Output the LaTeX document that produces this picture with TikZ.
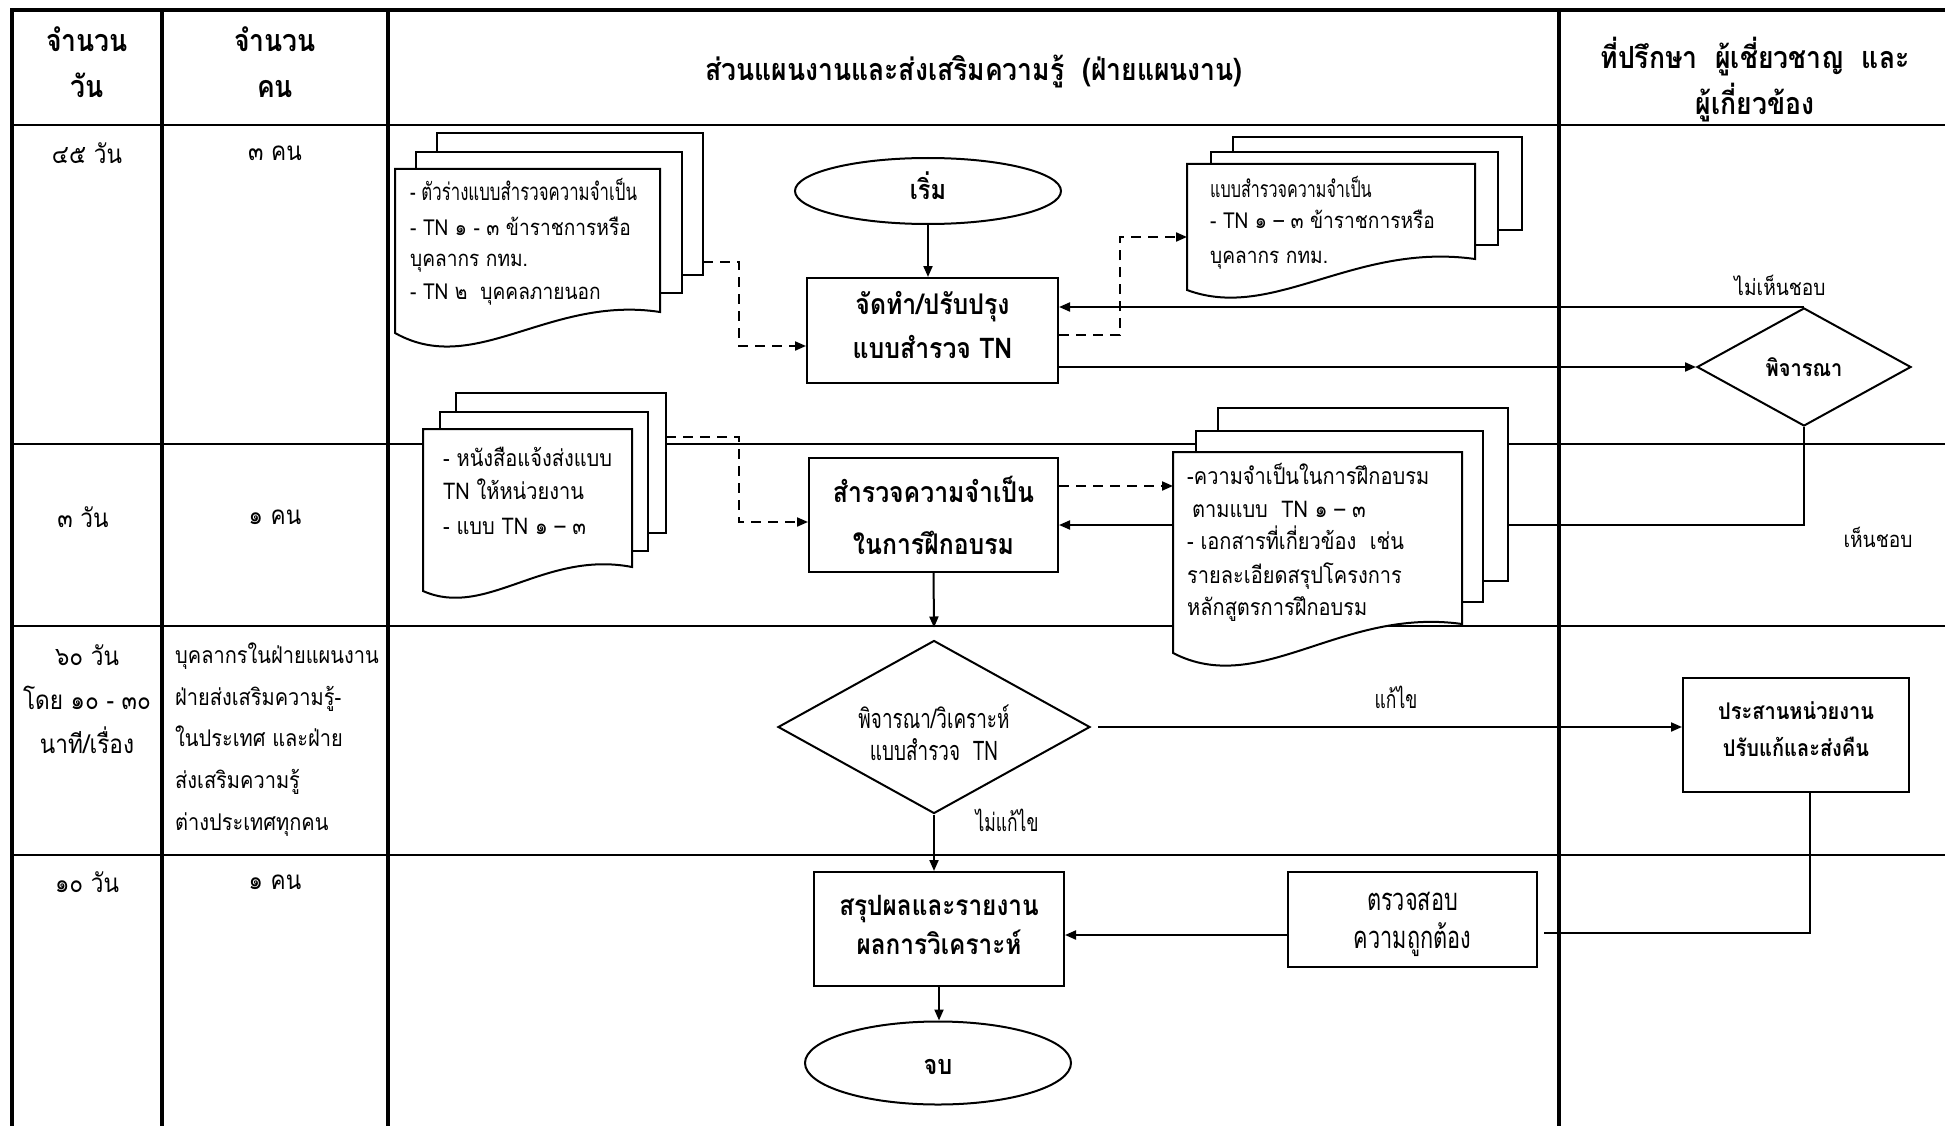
\documentclass[tikz,border=0pt]{standalone}
\usepackage{fontspec}
\usetikzlibrary{arrows.meta,shapes.geometric}
\setmainfont[Script=Thai,FakeStretch=0.87]{Loma}
\newfontfamily\thcond[Script=Thai,FakeStretch=0.7]{Loma}
\newcommand\fsz[2]{\fontsize{#1}{#2}\selectfont}

\tikzset{
  gridline/.style={line width=3.2pt},
  rowline/.style={line width=2.6pt},
  link/.style={line width=2pt},
  arr/.style={link,-{Triangle[length=11pt,width=9pt]}},
  dasharr/.style={arr,dash pattern=on 10pt off 7pt},
  flowbox/.style={draw,line width=2pt,fill=white,inner sep=0pt},
  terminal/.style={draw,ellipse,line width=2pt,fill=white,inner sep=0pt},
  decision/.style={draw,diamond,line width=2pt,fill=white,inner sep=0pt},
  boxtext/.style={align=center,inner sep=0pt},
  page/.style={draw,fill=white,line width=2pt},
  hdr/.style={font=\bfseries\fsz{30.5}{46},align=center,inner sep=0pt},
  cell/.style={font=\fsz{26}{44},align=center,inner sep=0pt},
  cellline/.style={font=\fsz{23}{30},anchor=base west,inner sep=0pt},
  docline/.style={font=\fsz{22}{26},anchor=base west,inner sep=0pt},
  lbl/.style={font=\fsz{22}{26},inner sep=0pt},
}

\begin{document}
\begin{tikzpicture}[x=1pt,y=-1pt]
\useasboundingbox (0,0) rectangle (1945,1126);

% table frame and lanes
\foreach \cx in {162,388,1559} \draw[gridline] (\cx,10) -- (\cx,1126);
\foreach \ry in {125,444,626,855} \draw[rowline] (12,\ry) -- (1945,\ry);
\draw[line width=4pt] (1945,10) -- (12,10) -- (12,1126);

% header
\node[hdr] (h1) at (87,62) {จำนวน\\วัน};
\node[hdr] (h2) at (275,62) {จำนวน\\คน};
\node[hdr] (h3) at (974,72) {ส่วนแผนงานและส่งเสริมความรู้~~(ฝ่ายแผนงาน)};
\node[hdr] (h4) at (1755,80) {ที่ปรึกษา~~ผู้เชี่ยวชาญ~~และ\\ผู้เกี่ยวข้อง};

% time and staff cells
\node[cell] (r1a) at (87,153) {๔๕ วัน};
\node[cell] (r1b) at (275,153) {๓ คน};
\node[cell] (r2a) at (83,517) {๓ วัน};
\node[cell] (r2b) at (275,517) {๑ คน};
\node[cell] (r3a) at (87,699) {๖๐ วัน\\โดย ๑๐ - ๓๐\\นาที/เรื่อง};
\node[cellline] (r3b1) at (175,663) {บุคลากรในฝ่ายแผนงาน};
\node[cellline] (r3b2) at (175,705) {ฝ่ายส่งเสริมความรู้-};
\node[cellline] (r3b3) at (175,746) {ในประเทศ และฝ่าย};
\node[cellline] (r3b4) at (175,788) {ส่งเสริมความรู้};
\node[cellline] (r3b5) at (175,830) {ต่างประเทศทุกคน};
\node[cell] (r4a) at (87,882) {๑๐ วัน};
\node[cell] (r4b) at (275,882) {๑ คน};

% flow shapes
\node[terminal,minimum width=266pt,minimum height=66pt] (start) at (928,191) {};
\node[flowbox,minimum width=251pt,minimum height=105pt] (b1) at (932.5,330.5) {};
\node[flowbox,minimum width=249pt,minimum height=114pt] (b2) at (933.5,515) {};
\node[decision,aspect=1.81,minimum width=214pt,minimum height=118pt] (p1) at (1804,367) {};
\node[decision,aspect=1.79,minimum width=312pt,minimum height=173pt] (p2) at (934,727) {};
\node[flowbox,minimum width=226pt,minimum height=114pt] (b3) at (1796,735) {};
\node[flowbox,minimum width=249pt,minimum height=95pt] (b4) at (1412.5,919.5) {};
\node[flowbox,minimum width=250pt,minimum height=114pt] (b5) at (939,929) {};
\node[terminal,minimum width=266pt,minimum height=83pt] (stop) at (938,1063) {};

% flow texts
\node[boxtext,font=\bfseries\fsz{27}{30}] (startt) at ([yshift=5pt]start.center) {เริ่ม};
\node[boxtext,font=\bfseries\fsz{28.5}{44}] (b1t) at ([yshift=6pt]b1.center) {จัดทำ/ปรับปรุง\\แบบสำรวจ TN};
\node[boxtext,font=\bfseries\fsz{28.5}{52}] (b2t) at (b2.center) {สำรวจความจำเป็น\\ในการฝึกอบรม};
\node[boxtext,font=\bfseries\fsz{23}{26}] (p1t) at (p1.center) {พิจารณา};
\node[boxtext,font=\thcond\fsz{27}{32}] (p2t) at ([yshift=-6pt]p2.center) {พิจารณา/วิเคราะห์\\แบบสำรวจ~~TN};
\node[boxtext,font=\bfseries\fsz{23}{37}] (b3t) at ([yshift=6pt]b3.center) {ประสานหน่วยงาน\\ปรับแก้และส่งคืน};
\node[boxtext,font=\thcond\fsz{31}{38}] (b4t) at ([yshift=-4.5pt]b4.center) {ตรวจสอบ\\ความถูกต้อง};
\node[boxtext,font=\bfseries\fsz{28}{39}] (b5t) at ([yshift=4.5pt]b5.center) {สรุปผลและรายงาน\\ผลการวิเคราะห์};
\node[boxtext,font=\bfseries\fsz{27}{30}] (stopt) at ([yshift=-4pt]stop.center) {จบ};

% connector end points on the document stacks
\coordinate (d1out) at (703,262);
\coordinate (j1) at (739,346);
\coordinate (j2) at (1120,237);
\coordinate (d2in) at (1187,237);
\coordinate (d3out) at (666,437);
\coordinate (j3) at (739,522);
\coordinate (d4in) at (1173,486);
\coordinate (b4in) at ([yshift=-15.5pt]b4.west);

% connectors
\draw[arr] (start.south) -- (start.south |- b1.north);
\draw[dasharr] (d1out) -| (j1) -- (j1 -| b1.west);
\draw[dasharr] ([yshift=-4.5pt]b1.east) -| (j2) -- (d2in);
\draw[arr] (p1.north) -- (p1.north -| b1.east);
\draw[arr] (b1.east |- p1.west) -- (p1.west);
\draw[arr] (p1.south) |- ([yshift=-10pt]b2.east);
\draw[dasharr] (b2.east |- d4in) -- (d4in);
\draw[dasharr] (d3out) -| (j3) -- (j3 -| b2.west);
\draw[arr] (b2.south) -- ([yshift=12pt]p2.north);
\draw[arr] ([xshift=7pt]p2.east) -- (p2.east -| b3.west);
\draw[arr] (p2.south) -- (p2.south |- b5.north);
\draw[link] ([xshift=14pt]b3.south) |- ([xshift=6pt,yshift=-13.5pt]b4.east);
\draw[arr] (b4in) -- (b4in -| b5.east);
\draw[arr] (b5.south) -- (b5.south |- stop.north);

% connector labels
\node[lbl] (no1) at (1780,285) {ไม่เห็นชอบ};
\node[lbl] (yes1) at (1878,537) {เห็นชอบ};
\node[lbl,font=\thcond\fsz{25}{28}] (fix) at (1396,697) {แก้ไข};
\node[lbl,font=\thcond\fsz{25}{28}] (nofix) at (1007,820) {ไม่แก้ไข};

% document stack: survey draft
\draw[page] (437,133) rectangle (703,275);
\draw[page] (416,152) rectangle (682,293);
\draw[page] (395,169) -- (660,169) -- (660,312) .. controls (549,295) and (475,378) .. (395,333) -- cycle;
\node[docline,font=\thcond\fsz{24}{26}] (d1a) at (410,200.5) {- ตัวร่างแบบสำรวจความจำเป็น};
\node[docline] (d1b) at (410,235) {- TN ๑ - ๓ ข้าราชการหรือ};
\node[docline] (d1c) at (410,266) {บุคลากร กทม.};
\node[docline] (d1d) at (410,299) {- TN ๒~~บุคคลภายนอก};

% document stack: survey form
\draw[page] (1233,137) rectangle (1522,230);
\draw[page] (1211,152) rectangle (1498,245);
\draw[page] (1187,164) -- (1475,164) -- (1475,259) .. controls (1354,242) and (1273,322) .. (1187,290) -- cycle;
\node[docline,font=\thcond\fsz{23}{26}] (d2a) at (1210,197) {แบบสำรวจความจำเป็น};
\node[docline] (d2b) at (1210,229) {- TN ๑ – ๓ ข้าราชการหรือ};
\node[docline] (d2c) at (1210,263) {บุคลากร กทม.};

% document stack: notification letter
\draw[page] (456,393) rectangle (666,533);
\draw[page] (440,412) rectangle (648,551);
\draw[page] (423,429) -- (632,429) -- (632,567) .. controls (544,550) and (486,619) .. (423,591) -- cycle;
\node[docline,font=\fsz{23}{26}] (d3a) at (443,466.5) {- หนังสือแจ้งส่งแบบ};
\node[docline,font=\fsz{23}{26}] (d3b) at (443,499.5) {TN ให้หน่วยงาน};
\node[docline,font=\fsz{23}{26}] (d3c) at (443,534.5) {- แบบ TN ๑ – ๓};

% document stack: training needs
\draw[page] (1218,408) rectangle (1508,581);
\draw[page] (1196,431) rectangle (1483,602);
\draw[page] (1173,452) -- (1462,452) -- (1462,624) .. controls (1341,607) and (1260,698) .. (1173,653) -- cycle;
\node[docline,font=\fsz{23}{26}] (d4a) at (1187,484) {-ความจำเป็นในการฝึกอบรม};
\node[docline,font=\fsz{23}{26}] (d4b) at (1192,517.5) {ตามแบบ~~TN ๑ – ๓};
\node[docline,font=\fsz{23}{26}] (d4c) at (1187,549) {- เอกสารที่เกี่ยวข้อง~~เช่น};
\node[docline,font=\fsz{23}{26}] (d4d) at (1187,583) {รายละเอียดสรุปโครงการ};
\node[docline,font=\fsz{23}{26}] (d4e) at (1187,615) {หลักสูตรการฝึกอบรม};
\end{tikzpicture}
\end{document}
